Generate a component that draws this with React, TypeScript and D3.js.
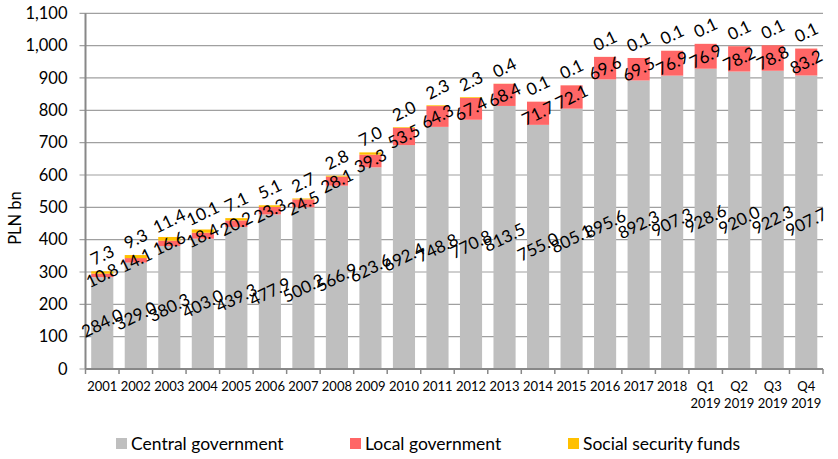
import React from "react";
import * as d3 from "d3";

const categories = ["2001","2002","2003","2004","2005","2006","2007","2008","2009","2010","2011","2012","2013","2014","2015","2016","2017","2018","Q1 2019","Q2 2019","Q3 2019","Q4 2019"];
const central = [284.0,329.0,380.3,403.0,439.3,477.9,500.2,566.9,623.6,692.4,748.8,770.8,813.5,755.0,805.1,895.6,892.3,907.3,928.6,920.0,922.3,907.7];
const local = [10.8,14.1,16.6,18.4,20.2,23.3,24.5,28.1,39.3,53.5,64.3,67.4,68.4,71.7,72.1,69.6,69.5,76.9,76.9,78.2,78.8,83.2];
const social = [7.3,9.3,11.4,10.1,7.1,5.1,2.7,2.8,7.0,2.0,2.3,2.3,0.4,0.1,0.1,0.1,0.1,0.1,0.1,0.1,0.1,0.1];
const seriesNames = ["Central government","Local government","Social security funds"];
const colors = ["#BFBFBF","#FF6666","#FFC000"];
const yTicks = [0,100,200,300,400,500,600,700,800,900,1000,1100];

const W = 838, H = 459;
const m = { left: 85.5, right: 823, top: 13.3, bottom: 369 };
const FONT = "Lato, 'Open Sans', sans-serif";
const ROT = -26;

export default function App() {
  const x = d3.scaleBand<string>().domain(categories).range([m.left, m.right]).paddingInner(0.34).paddingOuter(0.17);
  const y = d3.scaleLinear().domain([0, 1100]).range([m.bottom, m.top]);
  const fmt = d3.format(",");
  const rows = categories.map((c, i) => ({ c, v: [central[i], local[i], social[i]] }));
  const step = x.step();
  const edges = d3.range(categories.length + 1).map(i => m.left + i * step);

  return (
    <svg width={W} height={H} style={{ position: "absolute", left: 0, top: 0, background: "#fff" }} fontFamily={FONT}>
      {yTicks.map(t => (
        <g key={t}>
          <line x1={m.left - 6} x2={m.right} y1={y(t)} y2={y(t)} stroke="#A0A0A0" strokeWidth={1.2} />
          <text x={m.left - 18} y={y(t)} dy="0.35em" textAnchor="end" fontSize={16.5} fill="#000">{fmt(t)}</text>
        </g>
      ))}
      {rows.map((r, i) => {
        let acc = 0;
        return (
          <g key={r.c}>
            {r.v.map((v, s) => {
              const y0 = acc; acc += v;
              return <rect key={s} x={x(r.c)} width={x.bandwidth()} y={y(acc)} height={y(y0) - y(acc)} fill={colors[s]} />;
            })}
          </g>
        );
      })}
      <line x1={m.left} x2={m.left} y1={m.top} y2={m.bottom} stroke="#888" strokeWidth={2} />
      <line x1={m.left} x2={m.right} y1={m.bottom} y2={m.bottom} stroke="#888" strokeWidth={2} />
      {edges.map((e, i) => <line key={i} x1={e} x2={e} y1={m.bottom} y2={m.bottom + 5} stroke="#888" strokeWidth={1.5} />)}
      {rows.map((r, i) => {
        const cx = (x(r.c) as number) + x.bandwidth() / 2;
        const c0 = y(r.v[0] / 2);
        const c1 = y(r.v[0] + r.v[1] / 2);
        const top = y(r.v[0] + r.v[1] + r.v[2]);
        const c2 = top - 16;
        return (
          <g key={r.c} fontSize={17} fill="#000">
            {[c0, c1, c2].map((cy, s) => (
              <text key={s} transform={`translate(${cx},${cy}) rotate(${ROT})`} textAnchor="middle" dy="0.35em">{r.v[s].toFixed(1)}</text>
            ))}
          </g>
        );
      })}
      {rows.map((r, i) => {
        const cx = (x(r.c) as number) + x.bandwidth() / 2;
        const parts = r.c.split(" ");
        return (
          <text key={r.c} x={cx} y={m.bottom + 22} textAnchor="middle" fontSize={13} fill="#000">
            {parts.map((p, k) => <tspan key={k} x={cx} dy={k === 0 ? 0 : 17}>{p}</tspan>)}
          </text>
        );
      })}
      <text transform={`translate(21,218) rotate(-90)`} textAnchor="middle" fontSize={16.5} fill="#000">PLN bn</text>
      {seriesNames.map((n, s) => {
        const lx = [116, 350, 568][s];
        return (
          <g key={n}>
            <rect x={lx} y={438} width={11} height={11} fill={colors[s]} />
            <text x={lx + 15} y={443.5} dy="0.35em" fontSize={17.5} fill="#000">{n}</text>
          </g>
        );
      })}
    </svg>
  );
}
